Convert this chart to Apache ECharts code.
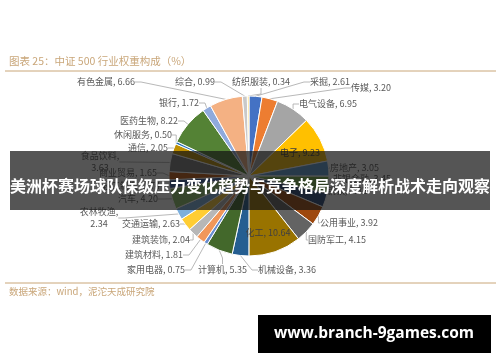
<!DOCTYPE html>
<html>
<head>
    <meta charset="UTF-8">
    <title>中证500行业权重构成</title>
    <script src="https://cdn.jsdelivr.net/npm/echarts@6/dist/echarts.min.js"></script>
    <style>
        html, body { margin: 0; padding: 0; background: #fff; }
        #pie { width: 500px; height: 362px; }
    </style>
</head>
<body>
    <div id="pie"></div>

    <script>
        // industry names, clockwise from 12 o'clock
        var industries = ['采掘', '传媒', '电气设备', '电子', '房地产', '非银金融', '钢铁', '公用事业',
            '国防军工', '化工', '机械设备', '计算机', '家用电器', '建筑材料', '建筑装饰', '交通运输',
            '农林牧渔', '汽车', '轻工制造', '商业贸易', '食品饮料', '通信', '休闲服务', '医药生物',
            '银行', '有色金属', '综合', '纺织服装'];
        // weight (%)
        var weights = [2.61, 3.20, 6.95, 9.23, 3.05, 3.45, 2.82, 3.92,
            4.15, 10.64, 3.36, 5.35, 0.75, 1.81, 2.04, 2.63,
            2.34, 4.20, 1.74, 1.65, 3.63, 2.05, 0.50, 8.22,
            1.72, 6.66, 0.99, 0.34];
        var palette = ['#4472C4', '#ED7D31', '#A5A5A5', '#FFC000', '#5B9BD5', '#70AD47',
            '#264478', '#9E480E', '#636363', '#997300', '#255E91', '#43682B',
            '#698ED0', '#F1975A', '#B7B7B7', '#FFCD33', '#7CAFDD', '#8CC168',
            '#335AA1', '#C55A11', '#7B7B7B', '#BF9000', '#2E75B6', '#548235',
            '#8FAADC', '#F4B183', '#C9C9C9', '#FFD966'];
        var wrapped = ['食品饮料', '农林牧渔'];
        var insideLabels = ['电子', '化工'];

        // where the excel-style "best fit" put each label (text anchor, px)
        var labelSpots = {
            '采掘': [310, 82, 'left'], '传媒': [351, 88, 'left'], '电气设备': [299, 104, 'left'],
            '电子': [300, 153, 'center'], '化工': [268, 233, 'center'],
            '房地产': [330, 168, 'left'], '非银金融': [333, 179, 'left'], '钢铁': [327, 191, 'left'],
            '公用事业': [320, 223, 'left'], '国防军工': [308, 240, 'left'],
            '机械设备': [258, 270, 'left'], '计算机': [198, 270, 'left'], '家用电器': [185, 270, 'right'],
            '建筑材料': [183, 255, 'right'], '建筑装饰': [190, 240, 'right'], '交通运输': [180, 224, 'right'],
            '农林牧渔': [99, 218, 'center'], '汽车': [158, 199, 'right'], '轻工制造': [160, 186, 'right'],
            '商业贸易': [157, 173, 'right'], '食品饮料': [100, 162, 'center'], '通信': [168, 148, 'right'],
            '休闲服务': [172, 135, 'right'], '医药生物': [178, 121, 'right'], '银行': [199, 103, 'right'],
            '有色金属': [135, 82, 'right'], '综合': [215, 82, 'right'], '纺织服装': [232, 82, 'left']
        };

        var chart = echarts.init(document.getElementById('pie'), null, {renderer: 'canvas'});
        var tan = '#C9A679';

        var pieData = industries.map(function (n, i) {
            var d = {name: n, value: weights[i]};
            if (insideLabels.indexOf(n) >= 0) {
                d.label = {position: 'inside', color: '#404040'};
            }
            return d;
        });

        chart.setOption({
            animation: false,
            color: palette,
            textStyle: {fontFamily: '"Noto Sans CJK SC", "Noto Sans", sans-serif'},
            series: [{
                type: 'pie',
                center: [249, 176],
                radius: [0, 80],
                startAngle: 90,
                clockwise: true,
                data: pieData,
                itemStyle: {borderColor: '#fff', borderWidth: 1},
                label: {
                    color: '#595959',
                    fontSize: 9,
                    lineHeight: 12,
                    formatter: function (p) {
                        var sep = wrapped.indexOf(p.name) >= 0 ? ',\n' : ', ';
                        return p.name + sep + p.value.toFixed(2);
                    }
                },
                labelLine: {
                    length: 8,
                    length2: 6,
                    lineStyle: {color: '#A6A6A6', width: 0.8}
                },
                labelLayout: function (params) {
                    var spot = labelSpots[industries[params.dataIndex]];
                    if (!spot) {
                        return {hideOverlap: false};
                    }
                    return {
                        x: spot[0], y: spot[1], align: spot[2], verticalAlign: 'middle',
                        hideOverlap: false
                    };
                }
            }],
            graphic: [
                {type: 'text', left: 9, top: 56, z: 50,
                    style: {text: '图表 25：中证 500 行业权重构成（%）', fill: tan, font: '10.5px "Noto Sans CJK SC"'}},
                {type: 'line', z: 50, shape: {x1: 5, y1: 71, x2: 496, y2: 71},
                    style: {stroke: tan, lineWidth: 1}},
                {type: 'line', z: 50, shape: {x1: 5, y1: 283, x2: 496, y2: 283},
                    style: {stroke: tan, lineWidth: 1}},
                {type: 'text', left: 9, top: 287, z: 50,
                    style: {text: '数据来源：wind，泥沱天成研究院', fill: tan, font: '9.5px "Noto Sans CJK SC"'}},
                {type: 'rect', z: 100, shape: {x: 10, y: 151, width: 480, height: 59},
                    style: {fill: 'rgba(20,20,20,0.72)'}},
                {type: 'text', z: 101, x: 250, y: 186,
                    style: {text: '美洲杯赛场球队保级压力变化趋势与竞争格局深度解析战术走向观察',
                        fill: '#fff', font: 'bold 16px "Noto Sans CJK SC"', align: 'center', verticalAlign: 'middle'}},
                {type: 'rect', z: 100, shape: {x: 258, y: 315, width: 233, height: 38},
                    style: {fill: '#000'}},
                {type: 'text', z: 101, x: 374, y: 334,
                    style: {text: 'www.branch-9games.com', fill: '#fff', font: 'bold 15.5px "Open Sans", sans-serif',
                        align: 'center', verticalAlign: 'middle'}}
            ]
        });
    </script>
</body>
</html>
